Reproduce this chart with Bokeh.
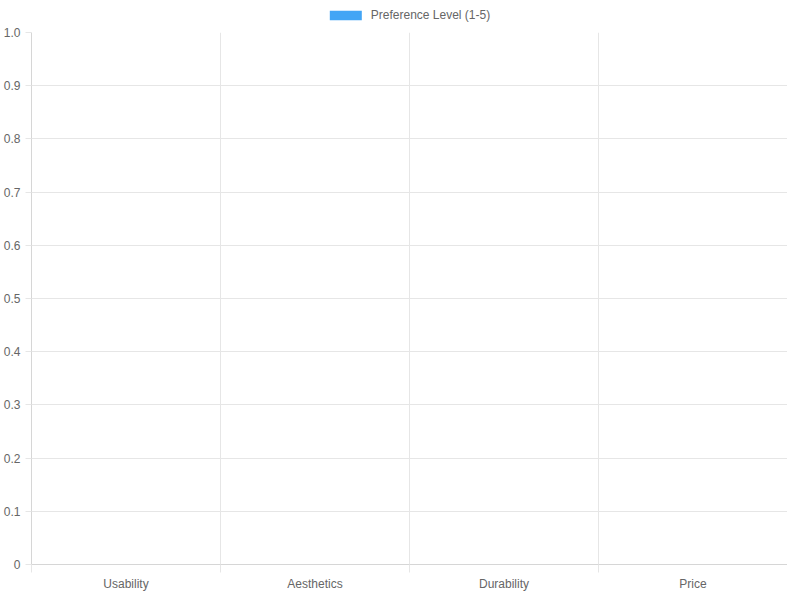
from bokeh.plotting import figure
from bokeh.layouts import column
from bokeh.models import FixedTicker, Legend, LegendItem, Range1d, PrintfTickFormatter
from bokeh.embed import file_html
from bokeh.resources import INLINE

categories = ["Usability", "Aesthetics", "Durability", "Price"]
values = [0, 0, 0, 0]
y_ticks = [0, 0.1, 0.2, 0.3, 0.4, 0.5, 0.6, 0.7, 0.8, 0.9, 1.0]
series_name = "Preference Level (1-5)"

FONT = "Liberation Sans"
GRID = "#e6e6e6"
TEXT = "#666666"
BAR = "#42A5F5"

centers = [i + 0.5 for i in range(len(categories))]
bounds = list(range(len(categories) + 1))

p = figure(frame_width=756, frame_height=532, output_backend="svg", toolbar_location=None,
           x_range=Range1d(0, len(categories)), y_range=Range1d(0, 1.0),
           min_border_left=0, min_border_right=0, min_border_top=6, min_border_bottom=0)
p.outline_line_color = None

bars = p.vbar(x=centers, top=values, bottom=0, width=0.8,
              fill_color=BAR, line_color=None)

# x axis: labels in the middle of each category, tick marks at the borders
p.xaxis.ticker = FixedTicker(ticks=centers, minor_ticks=bounds)
p.xaxis.major_label_overrides = {c: name for c, name in zip(centers, categories)}
p.xaxis.major_tick_out = 0
p.xaxis.major_tick_in = 0
p.xaxis.minor_tick_out = 8
p.xaxis.minor_tick_in = 0
p.xaxis.minor_tick_line_color = GRID
p.xaxis.major_label_standoff = 4
p.xgrid.ticker = FixedTicker(ticks=bounds)

p.yaxis.ticker = FixedTicker(ticks=y_ticks)
p.yaxis.formatter = PrintfTickFormatter(format="%.1f")
p.yaxis.major_label_overrides = {0: "0"}
p.yaxis.major_tick_out = 6
p.yaxis.major_tick_in = 0
p.yaxis.minor_tick_line_color = None
p.yaxis.major_tick_line_color = GRID
p.yaxis.major_label_standoff = 5

for ax in (p.xaxis, p.yaxis):
    ax.axis_line_color = "#d6d6d6"
    ax.major_label_text_font = FONT
    ax.major_label_text_font_size = "12px"
    ax.major_label_text_color = TEXT

for g in (p.xgrid, p.ygrid):
    g.grid_line_color = GRID
    g.grid_line_width = 1

# legend strip on top, like the chart's header legend
lg = figure(width=784, height=26, output_backend="svg", toolbar_location=None,
            x_range=Range1d(0, len(categories)), y_range=Range1d(0, 1.0),
            x_axis_type=None, y_axis_type=None,
            min_border_left=0, min_border_right=0, min_border_top=0, min_border_bottom=0)
lg.outline_line_color = None
lg.grid.visible = False
swatch = lg.vbar(x=centers, top=values, bottom=0, width=0.8,
                 fill_color=BAR, line_color=None)
legend = Legend(items=[LegendItem(label=series_name, renderers=[swatch])],
                orientation="horizontal", location="top_center",
                glyph_width=40, glyph_height=12, label_text_font=FONT,
                label_text_font_size="12px", label_text_color=TEXT,
                border_line_color=None, background_fill_alpha=0,
                padding=0, margin=8, label_standoff=6, label_height=12)
lg.add_layout(legend)

layout = column(lg, p, spacing=0)
open("out.html", "w").write(file_html(layout, INLINE))
